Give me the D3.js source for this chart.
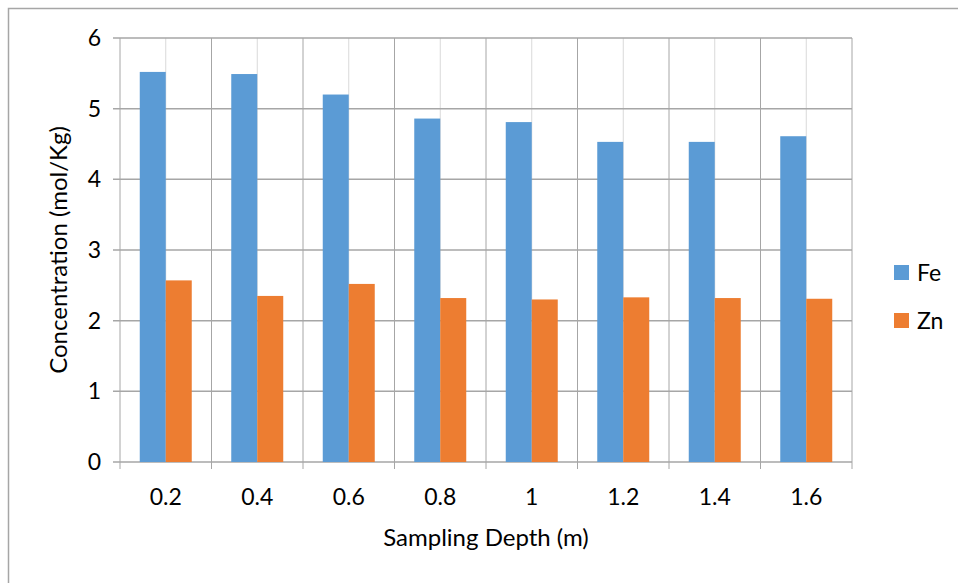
<!DOCTYPE html>
<html>
<head>
<meta charset="utf-8">
<script src="https://cdn.jsdelivr.net/npm/d3@7"></script>
<style>
  body { margin: 0; background: #fff; }
  text { font-family: Lato, "Open Sans", sans-serif; fill: #000; }
</style>
</head>
<body>
<div id="chart"></div>
<script>
const depths = ['0.2', '0.4', '0.6', '0.8', '1', '1.2', '1.4', '1.6']
const seriesNames = ['Fe', 'Zn']
const feValues = [5.52, 5.49, 5.20, 4.86, 4.81, 4.53, 4.53, 4.61]
const znValues = [2.57, 2.35, 2.52, 2.32, 2.30, 2.33, 2.32, 2.31]
const yTicks = [0, 1, 2, 3, 4, 5, 6]
const colors = ['#5B9BD5', '#ED7D31']

const width = 958, height = 583
const margin = { top: 38, left: 120, bottom: 121, right: 106 }

const svg = d3.select('#chart').append('svg')
    .attr('width', width)
    .attr('height', height)

// outer chart border (right/bottom sides run off the page)
svg.append('rect')
    .attr('x', 8.5).attr('y', 8.5)
    .attr('width', 1000).attr('height', 1000)
    .attr('fill', 'none')
    .attr('stroke', '#a6a6a6')
    .attr('stroke-width', 1.5)

const table = depths.map((d, i) => ({ depth: d, values: [feValues[i], znValues[i]] }))

const xScale = d3.scaleBand()
    .domain(depths)
    .range([margin.left, width - margin.right])
    .padding(0)
const xInner = d3.scaleBand()
    .domain(seriesNames)
    .range([0, xScale.bandwidth()])
    .paddingInner(0)
    .paddingOuter(0.76)
const yScale = d3.scaleLinear()
    .domain([0, 6])
    .range([height - margin.bottom, margin.top])

const grid = svg.append('g')

// light gridlines at category centres
grid.selectAll('.mid')
    .data(depths)
    .enter().append('line')
    .attr('class', 'mid')
    .attr('x1', d => xScale(d) + xScale.bandwidth() / 2)
    .attr('x2', d => xScale(d) + xScale.bandwidth() / 2)
    .attr('y1', yScale(6)).attr('y2', yScale(0))
    .attr('stroke', '#d9d9d9').attr('stroke-width', 1)

// darker lines at category boundaries (with ticks below axis)
const bounds = depths.map(d => xScale(d)).concat([xScale.range()[1]])
grid.selectAll('.bound')
    .data(bounds)
    .enter().append('line')
    .attr('class', 'bound')
    .attr('x1', d => d).attr('x2', d => d)
    .attr('y1', yScale(6)).attr('y2', yScale(0) + 7)
    .attr('stroke', '#a6a6a6').attr('stroke-width', 1)

// horizontal gridlines + y ticks
grid.selectAll('.hgrid')
    .data(yTicks)
    .enter().append('line')
    .attr('class', 'hgrid')
    .attr('x1', margin.left - 7).attr('x2', xScale.range()[1])
    .attr('y1', d => yScale(d)).attr('y2', d => yScale(d))
    .attr('stroke', '#a6a6a6').attr('stroke-width', 1.5)

// bars
const groups = svg.append('g').selectAll('.grp')
    .data(table)
    .enter().append('g')
    .attr('class', 'grp')
    .attr('transform', d => `translate(${xScale(d.depth)},0)`)

groups.selectAll('rect')
    .data(d => d.values.map((v, i) => ({ key: seriesNames[i], value: v, i })))
    .enter().append('rect')
    .attr('x', d => xInner(d.key))
    .attr('width', xInner.bandwidth())
    .attr('y', d => yScale(d.value))
    .attr('height', d => yScale(0) - yScale(d.value))
    .attr('fill', d => colors[d.i])

// y tick labels
svg.append('g').selectAll('text')
    .data(yTicks)
    .enter().append('text')
    .attr('x', 101)
    .attr('y', d => yScale(d))
    .attr('dy', '0.35em')
    .attr('text-anchor', 'end')
    .attr('font-size', 23)
    .text(d => d)

// x tick labels
svg.append('g').selectAll('text')
    .data(depths)
    .enter().append('text')
    .attr('x', d => xScale(d) + xScale.bandwidth() / 2)
    .attr('y', 505)
    .attr('text-anchor', 'middle')
    .attr('font-size', 23)
    .text(d => d)

svg.append('text')
    .attr('x', (margin.left + xScale.range()[1]) / 2)
    .attr('y', 546)
    .attr('text-anchor', 'middle')
    .attr('font-size', 24)
    .text('Sampling Depth (m)')

svg.append('text')
    .attr('transform', `translate(67, ${(yScale(0) + yScale(6)) / 2}) rotate(-90)`)
    .attr('text-anchor', 'middle')
    .attr('font-size', 24)
    .text('Concentration (mol/Kg)')

// legend
const legend = svg.append('g').selectAll('.leg')
    .data(seriesNames)
    .enter().append('g')
    .attr('class', 'leg')
    .attr('transform', (d, i) => `translate(894, ${265 + i * 48})`)
legend.append('rect')
    .attr('width', 15).attr('height', 15)
    .attr('fill', (d, i) => colors[i])
legend.append('text')
    .attr('x', 23).attr('y', 8)
    .attr('dy', '0.35em')
    .attr('font-size', 23)
    .text(d => d)
</script>
</body>
</html>
